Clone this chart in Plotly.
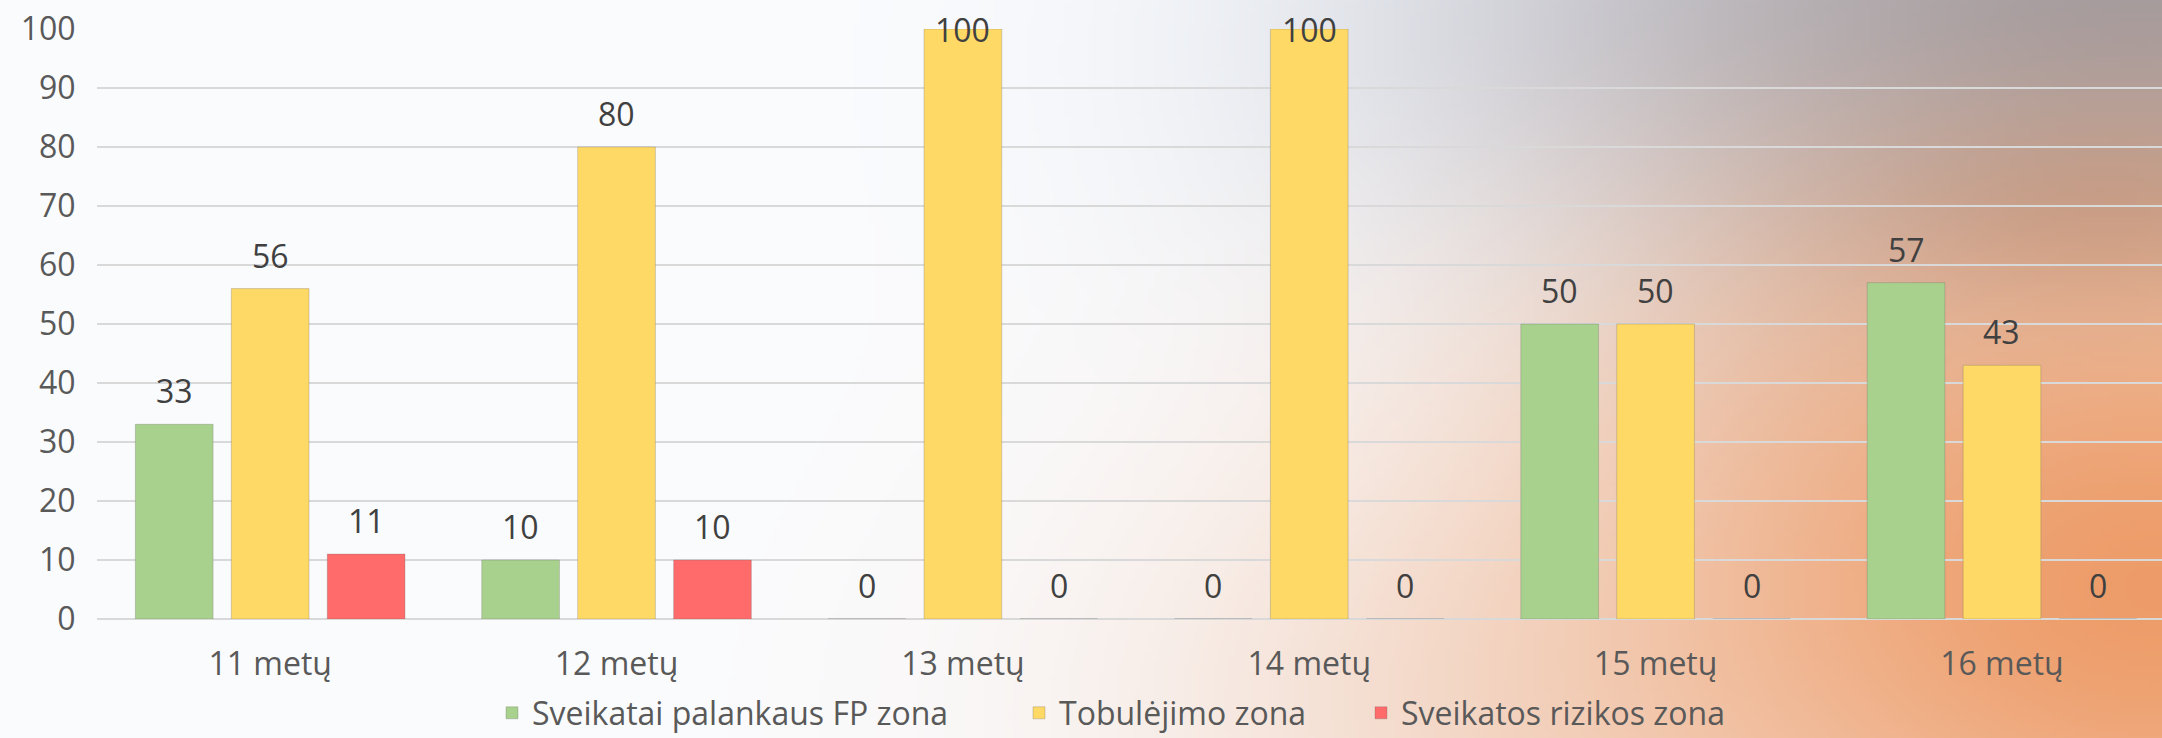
import base64, struct, zlib
import numpy as np
import plotly.graph_objects as go

categories = ["11 metų", "12 metų", "13 metų", "14 metų", "15 metų", "16 metų"]
series_names = ["Sveikatai palankaus FP zona", "Tobulėjimo zona", "Sveikatos rizikos zona"]
green_vals = [33, 10, 0, 0, 50, 57]
yellow_vals = [56, 80, 100, 100, 50, 43]
red_vals = [11, 10, 0, 0, 0, 0]
y_ticks = [0, 10, 20, 30, 40, 50, 60, 70, 80, 90, 100]

colors = ["#A9D18E", "#FFD966", "#FF6B6B"]
W, H = 2162, 738
ML, MR, MT, MB = 97, 0, 29, 119
FONT = "Century Gothic, Open Sans, sans-serif"
FS = 32
TXT = "#404040"
TICK = "#595959"
pw = W - ML - MR
ph = H - MT - MB
Y_MAX = 100


# ---- background picture (decoration only) ----
def make_bg(w=432, h=148):
    X, Y = np.meshgrid(np.linspace(0, W, w), np.linspace(0, H, h))
    img = np.zeros((h, w, 3)) + np.array([251, 252, 254], float)
    layers = [
        ((230, 238, 248), (1500, 80), (380, 250), 0.6),
        ((205, 211, 224), (1800, 0), (380, 200), 0.6),
        ((243, 222, 210), (1550, 738), (450, 280), 0.75),
        ((212, 186, 174), (1850, 330), (280, 220), 0.35),
        ((150, 148, 156), (2162, 0), (560, 250), 0.9),
        ((160, 125, 110), (2120, 210), (280, 110), 0.5),
        ((237, 152, 98), (2162, 590), (580, 400), 0.95),
    ]
    for col, (cx, cy), (rx, ry), a in layers:
        wgt = a * np.exp(-(((X - cx) / rx) ** 2 + ((Y - cy) / ry) ** 2))
        img = img * (1 - wgt[..., None]) + np.array(col, float) * wgt[..., None]
    return np.clip(img, 0, 255).astype(np.uint8)


def png_uri(arr):
    h, w, _ = arr.shape
    raw = b"".join(b"\x00" + arr[i].tobytes() for i in range(h))

    def chunk(t, d):
        c = struct.pack(">I", len(d)) + t + d
        return c + struct.pack(">I", zlib.crc32(t + d) & 0xFFFFFFFF)

    png = b"\x89PNG\r\n\x1a\n" + chunk(b"IHDR", struct.pack(">IIBBBBB", w, h, 8, 2, 0, 0, 0)) \
        + chunk(b"IDAT", zlib.compress(raw, 9)) + chunk(b"IEND", b"")
    return "data:image/png;base64," + base64.b64encode(png).decode()


BARGAP, GROUPGAP = 0.169, 0.19
legend_ids = ["legend", "legend2", "legend3"]
legend_left_px = [492, 1019, 1361]

fig = go.Figure()
n = len(series_names)
for i, (name, vals, col) in enumerate(zip(series_names, [green_vals, yellow_vals, red_vals], colors)):
    fig.add_trace(go.Bar(
        x=categories, y=vals, name=name, legend=legend_ids[i],
        marker=dict(color=col, line=dict(color="rgba(90,90,90,0.25)", width=1)),
        hoverinfo="x+y+name",
    ))

# data labels placed above each bar via the axes (category + value)
cat_px = pw / 5.962
slot_px = cat_px * (1 - BARGAP) / n
for i, vals in enumerate([green_vals, yellow_vals, red_vals]):
    for c, v in zip(categories, vals):
        top = v >= Y_MAX * 0.95  # no room above: label sits on the bar top
        fig.add_annotation(x=c, y=v, xref="x", yref="y", text=str(v), showarrow=False,
                           xshift=(i - (n - 1) / 2) * slot_px,
                           yanchor="middle" if top else "bottom", yshift=0 if top else 10,
                           font=dict(family=FONT, size=FS, color=TXT))

fig.add_layout_image(dict(
    source=png_uri(make_bg()), xref="paper", yref="paper",
    x=-ML / pw, y=1 + MT / ph, sizex=W / pw, sizey=H / ph,
    xanchor="left", yanchor="top", sizing="stretch", layer="below",
))

leg_common = dict(orientation="h", xanchor="left", yref="container", y=(H - 713) / H, yanchor="middle",
                  font=dict(family=FONT, size=FS, color=TICK),
                  bgcolor="rgba(0,0,0,0)", itemwidth=30)
fig.update_layout(
    width=W, height=H,
    margin=dict(l=ML, r=MR, t=MT, b=MB, pad=0),
    paper_bgcolor="white", plot_bgcolor="rgba(0,0,0,0)",
    barmode="group", bargap=BARGAP, bargroupgap=GROUPGAP,
    font=dict(family=FONT, size=FS, color=TICK),
    showlegend=True,
    legend=dict(x=(legend_left_px[0] - ML) / pw, **leg_common),
    legend2=dict(x=(legend_left_px[1] - ML) / pw, **leg_common),
    legend3=dict(x=(legend_left_px[2] - ML) / pw, **leg_common),
)
fig.update_xaxes(range=[-0.5, 5.462], showgrid=False, zeroline=False, showline=False,
                 ticks="outside", ticklen=17, tickcolor="rgba(0,0,0,0)",
                 tickfont=dict(family=FONT, size=FS, color=TICK))
fig.update_yaxes(range=[0, Y_MAX], tickvals=y_ticks, showgrid=True, gridcolor="#D9D9D9", gridwidth=2,
                 zeroline=True, zerolinecolor="#D9D9D9", zerolinewidth=2, showline=False,
                 ticks="outside", ticklen=14, tickcolor="rgba(0,0,0,0)",
                 tickfont=dict(family=FONT, size=FS, color=TICK))

fig.write_html("out.html", config={"displayModeBar": False},
               post_script="document.body.style.margin='0';document.body.style.overflow='hidden';")
